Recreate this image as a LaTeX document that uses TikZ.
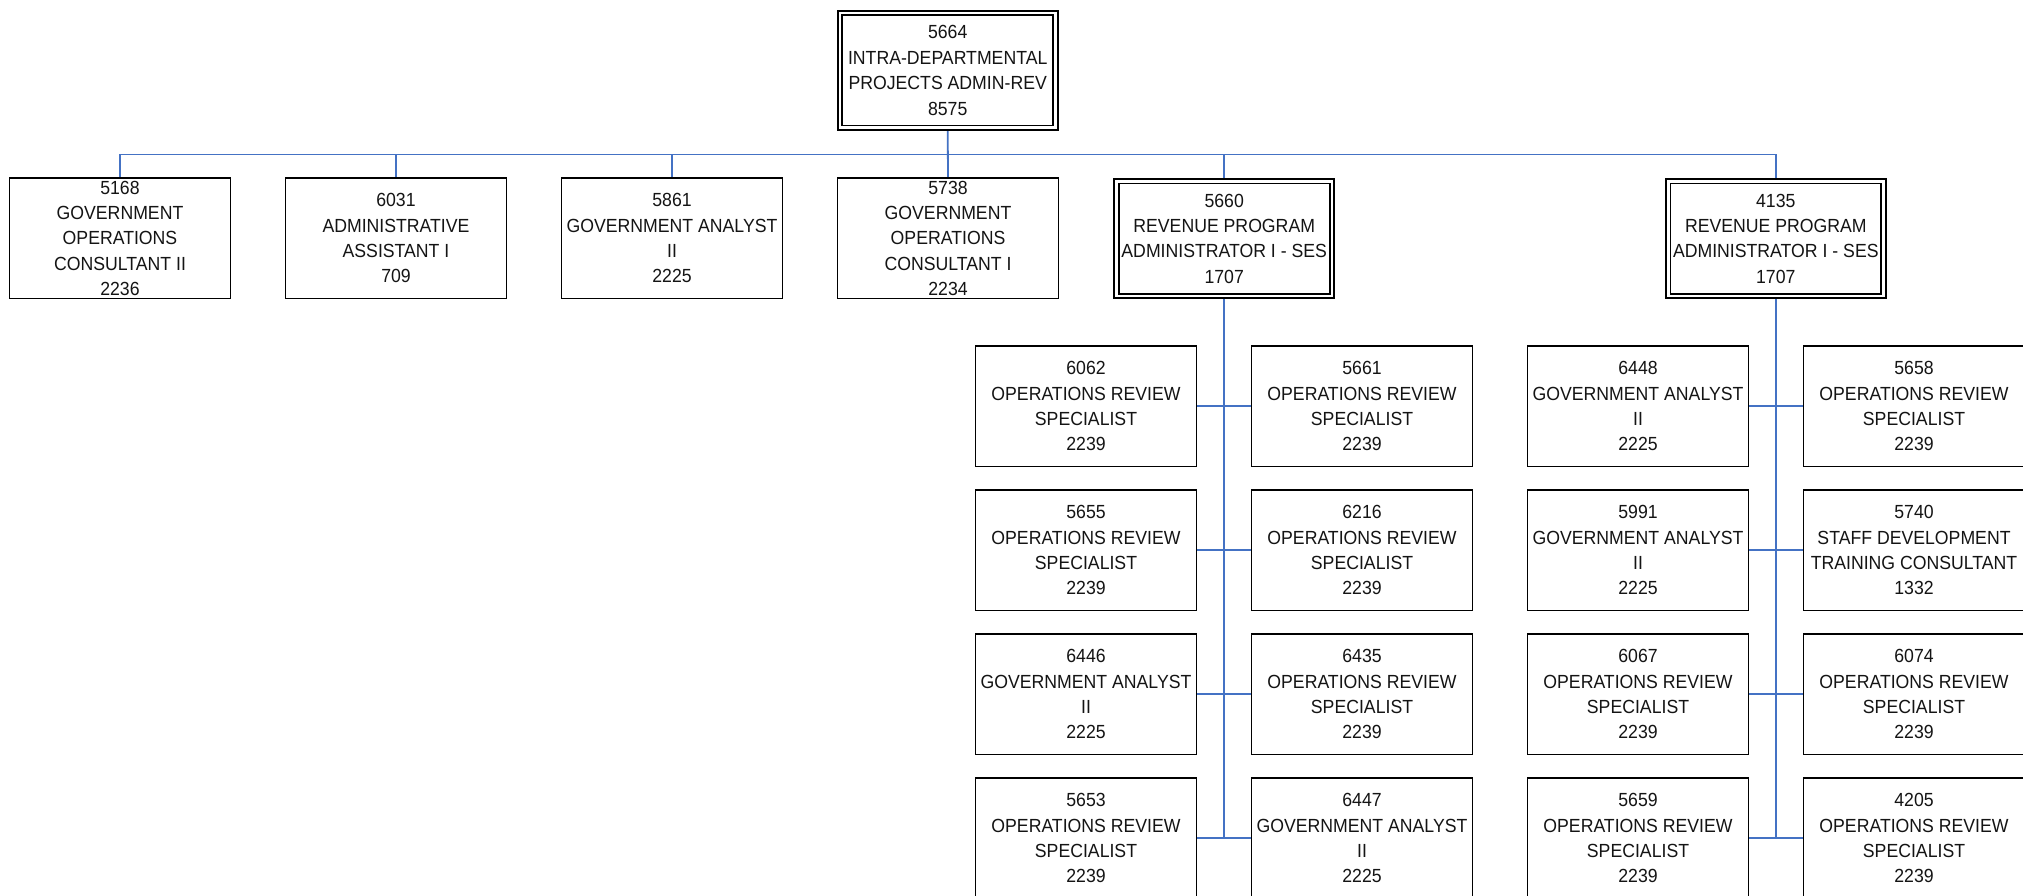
\documentclass[tikz,border=0pt]{standalone}
\usepackage{fontspec}
\setmainfont{Liberation Sans}[FakeStretch=0.93]
\usetikzlibrary{backgrounds}
\definecolor{linkblue}{HTML}{4472C4}
\definecolor{inkgray}{HTML}{141414}

% one position: frame node plus its centred caption
\newcommand\position[4]{%
  \node[#1] (#2) at (#3) {};
  \node[posname] (#2-t) at (#2.center) {#4};
}

\begin{document}
\begin{tikzpicture}[x=1pt,y=-1pt,
  posbox/.style={draw=black, line width=1.7pt, fill=white,
    minimum width=221pt, minimum height=120.5pt, inner sep=0pt, outer sep=0pt},
  headbox/.style={posbox, double=white, double distance=2.8pt,
    minimum width=215.4pt, minimum height=114.7pt},
  posname/.style={font={\fontsize{19}{25.4}\selectfont}, align=center,
    inner sep=0pt, text=inkgray},
  link/.style={draw=linkblue, line width=1.8pt}
]
\useasboundingbox (0,0) rectangle (2023,895);
\clip (0,0) rectangle (2023,895);

% head of the unit
\position{headbox}{h5664}{947.7,70.4}{5664\\INTRA-DEPARTMENTAL\\PROJECTS ADMIN-REV\\8575}

% direct reports
\position{posbox}{p5168}{120,238.3}{5168\\GOVERNMENT\\OPERATIONS\\CONSULTANT II\\2236}
\position{posbox}{p6031}{396,238.3}{6031\\ADMINISTRATIVE\\ASSISTANT I\\709}
\position{posbox}{p5861}{672,238.3}{5861\\GOVERNMENT ANALYST\\II\\2225}
\position{posbox}{p5738}{948,238.3}{5738\\GOVERNMENT\\OPERATIONS\\CONSULTANT I\\2234}
\position{headbox}{h5660}{1224.2,238.6}{5660\\REVENUE PROGRAM\\ADMINISTRATOR I - SES\\1707}
\position{headbox}{h4135}{1775.8,238.6}{4135\\REVENUE PROGRAM\\ADMINISTRATOR I - SES\\1707}

% staff under 5660
\position{posbox}{p6062}{1086,406.3}{6062\\OPERATIONS REVIEW\\SPECIALIST\\2239}
\position{posbox}{p5661}{1362,406.3}{5661\\OPERATIONS REVIEW\\SPECIALIST\\2239}
\position{posbox}{p5655}{1086,550.3}{5655\\OPERATIONS REVIEW\\SPECIALIST\\2239}
\position{posbox}{p6216}{1362,550.3}{6216\\OPERATIONS REVIEW\\SPECIALIST\\2239}
\position{posbox}{p6446}{1086,694.3}{6446\\GOVERNMENT ANALYST\\II\\2225}
\position{posbox}{p6435}{1362,694.3}{6435\\OPERATIONS REVIEW\\SPECIALIST\\2239}
\position{posbox}{p5653}{1086,838.3}{5653\\OPERATIONS REVIEW\\SPECIALIST\\2239}
\position{posbox}{p6447}{1362,838.3}{6447\\GOVERNMENT ANALYST\\II\\2225}

% staff under 4135
\position{posbox}{p6448}{1638,406.3}{6448\\GOVERNMENT ANALYST\\II\\2225}
\position{posbox}{p5658}{1914,406.3}{5658\\OPERATIONS REVIEW\\SPECIALIST\\2239}
\position{posbox}{p5991}{1638,550.3}{5991\\GOVERNMENT ANALYST\\II\\2225}
\position{posbox}{p5740}{1914,550.3}{5740\\STAFF DEVELOPMENT\\TRAINING CONSULTANT\\1332}
\position{posbox}{p6067}{1638,694.3}{6067\\OPERATIONS REVIEW\\SPECIALIST\\2239}
\position{posbox}{p6074}{1914,694.3}{6074\\OPERATIONS REVIEW\\SPECIALIST\\2239}
\position{posbox}{p5659}{1638,838.3}{5659\\OPERATIONS REVIEW\\SPECIALIST\\2239}
\position{posbox}{p4205}{1914,838.3}{4205\\OPERATIONS REVIEW\\SPECIALIST\\2239}

\begin{pgfonlayer}{background}
  \fill[white] (0,0) rectangle (2023,895);
  \coordinate (bus) at (0,154.5);
  % top-level bus
  \draw[link] (h5664.south) -- (p5738.north);
  \draw[link] (p5168.north) -- (p5168.north |- bus) -- (h4135.north |- bus) -- (h4135.north);
  \foreach \n in {p6031,p5861,h5660}
    \draw[link] (\n.north) -- (\n.north |- bus);
  % spines
  \draw[link] (h5660.south) -- (h5660.south |- p5653.east);
  \draw[link] (h4135.south) -- (h4135.south |- p5659.east);
  % rows
  \draw[link] (p6062.east) -- (p5661.west);
  \draw[link] (p5655.east) -- (p6216.west);
  \draw[link] (p6446.east) -- (p6435.west);
  \draw[link] (p5653.east) -- (p6447.west);
  \draw[link] (p6448.east) -- (p5658.west);
  \draw[link] (p5991.east) -- (p5740.west);
  \draw[link] (p6067.east) -- (p6074.west);
  \draw[link] (p5659.east) -- (p4205.west);
\end{pgfonlayer}
\end{tikzpicture}
\end{document}
